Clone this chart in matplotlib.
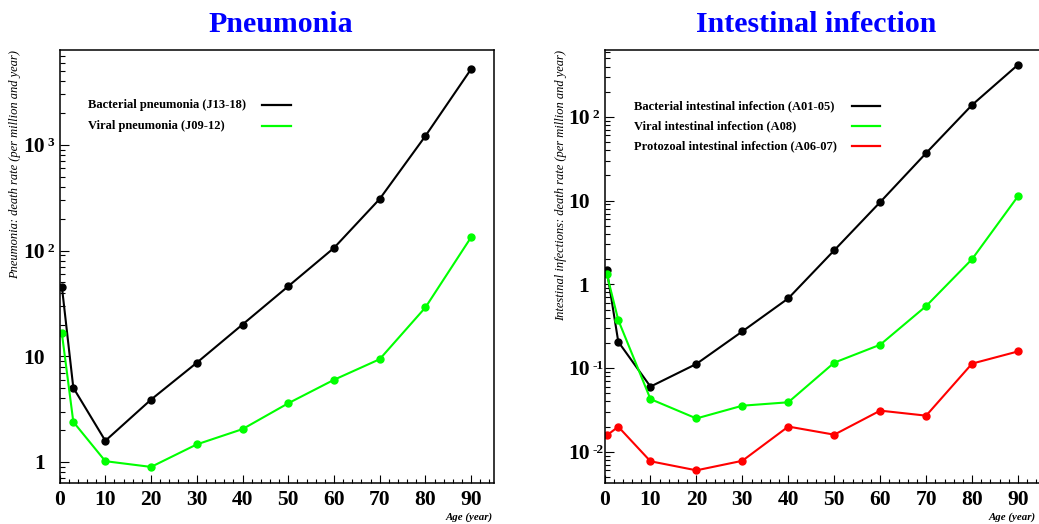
import matplotlib
matplotlib.use("Agg")
import matplotlib.pyplot as plt
from matplotlib.ticker import FixedLocator, NullFormatter, LogLocator, MultipleLocator
from matplotlib.transforms import blended_transform_factory, ScaledTranslation

plt.rcParams["font.family"] = ["Liberation Serif", "DejaVu Serif"]

# ---------------- data ----------------
ages = [0.5, 3, 10, 20, 30, 40, 50, 60, 70, 80, 90]

pneu_bacterial = [45.5, 5.05, 1.59, 3.9, 8.7, 20, 46, 106, 308, 1214, 5220]
pneu_viral = [16.5, 2.4, 1.02, 0.90, 1.47, 2.05, 3.6, 6.0, 9.4, 29, 134]

int_bacterial = [1.48, 0.206, 0.060, 0.112, 0.274, 0.68, 2.55, 9.6, 37, 139, 420]
int_viral = [1.32, 0.374, 0.0426, 0.025, 0.0355, 0.039, 0.116, 0.19, 0.55, 2.0, 11.3]
int_protozoal = [0.0157, 0.0199, 0.0077, 0.006, 0.0078, 0.020, 0.016, 0.031, 0.027, 0.113, 0.158]

pneu_labels = ["Bacterial pneumonia (J13-18)", "Viral pneumonia (J09-12)"]
int_labels = ["Bacterial intestinal infection (A01-05)", "Viral intestinal infection (A08)",
              "Protozoal intestinal infection (A06-07)"]
xticks = [0, 10, 20, 30, 40, 50, 60, 70, 80, 90]
pneu_exps = [0, 1, 2, 3]
int_exps = [-2, -1, 0, 1, 2]

W, H = 1039, 524
fig = plt.figure(figsize=(W / 100, H / 100), dpi=100)


def px_axes(l, r, t, b):
    return fig.add_axes([l / W, 1 - b / H, (r - l) / W, (b - t) / H])


ax1 = px_axes(59.6, 494, 50, 483.3)
ax2 = px_axes(604.5, 1041, 50, 483.3)


def style(ax, ylim, exps):
    ax.set_yscale("log")
    ax.set_xlim(0, 95)
    ax.set_ylim(*ylim)
    ax.xaxis.set_major_locator(FixedLocator(xticks))
    ax.xaxis.set_minor_locator(MultipleLocator(2))
    ax.set_xticklabels([str(t) for t in xticks])
    ax.yaxis.set_major_locator(FixedLocator([10.0 ** e for e in exps]))
    ax.yaxis.set_minor_locator(LogLocator(base=10, subs=range(2, 10), numticks=50))
    ax.yaxis.set_minor_formatter(NullFormatter())
    ax.tick_params(axis="x", which="major", direction="in", length=5.8, width=0.8,
                   labelsize=15.5, pad=4.8, top=False)
    ax.tick_params(axis="x", which="minor", direction="in", length=2.9, width=0.8, top=False)
    ax.tick_params(axis="y", which="major", direction="in", length=6.5, width=0.8,
                   labelleft=False, right=False)
    ax.tick_params(axis="y", which="minor", direction="in", length=3.4, width=0.8, right=False)
    for lab in ax.get_xticklabels():
        lab.set_fontweight("bold")
    for sp in ax.spines.values():
        sp.set_linewidth(1.1)
    tr = blended_transform_factory(ax.transAxes, ax.transData)
    for e in exps:
        v = 10.0 ** e
        if e == 0:
            base, sup = "1", None
        elif e == 1:
            base, sup = "10", None
        else:
            base, sup = "10", str(e)
        ax.text(0, v, base, transform=tr + ScaledTranslation(-10.8 / 72, -5.2 / 72, fig.dpi_scale_trans),
                ha="right", va="baseline", fontsize=15.5, fontweight="bold")
        if sup:
            ax.text(0, v, sup, transform=tr + ScaledTranslation(-8.6 / 72, -0.7 / 72, fig.dpi_scale_trans),
                    ha="left", va="baseline", fontsize=9.5, fontweight="bold")


style(ax1, (0.63, 7900), pneu_exps)
style(ax2, (0.0042, 630), int_exps)

lw, ms = 1.5, 5
ax1.plot(ages, pneu_bacterial, color="black", lw=lw, marker="o", ms=ms)
ax1.plot(ages, pneu_viral, color="#00ff00", lw=lw, marker="o", ms=ms)
ax2.plot(ages, int_bacterial, color="black", lw=lw, marker="o", ms=ms)
ax2.plot(ages, int_viral, color="#00ff00", lw=lw, marker="o", ms=ms)
ax2.plot(ages, int_protozoal, color="#ff0000", lw=lw, marker="o", ms=ms)

# legends (drawn manually, ROOT style: text left, line sample right)
def legend(labels, colors, text_x, line_x0, line_x1, ys):
    for lab, c, y in zip(labels, colors, ys):
        fig.text(text_x / W, 1 - y / H, lab, ha="left", va="center", fontsize=9, fontweight="bold")
        fig.add_artist(plt.Line2D([line_x0 / W, line_x1 / W], [1 - y / H, 1 - y / H],
                                  color=c, lw=1.6, transform=fig.transFigure))


legend(pneu_labels, ["black", "#00ff00"], 88, 262, 291, [105, 126])
legend(int_labels, ["black", "#00ff00", "#ff0000"], 634, 852, 880, [106, 126, 146])

# titles
fig.text(280.5 / W, 1 - 32 / H, "Pneumonia", ha="center", va="baseline",
         fontsize=21.5, fontweight="bold", color="#0000ff")
fig.text(816 / W, 1 - 32 / H, "Intestinal infection", ha="center", va="baseline",
         fontsize=21.5, fontweight="bold", color="#0000ff")

# axis titles
fig.text(15 / W, 1 - 50 / H, "Pneumonia: death rate (per million and year)", rotation=90,
         ha="center", va="top", fontsize=9, style="italic")
fig.text(561 / W, 1 - 50 / H, "Intestinal infections: death rate (per million and year)", rotation=90,
         ha="center", va="top", fontsize=9, style="italic")
fig.text(493 / W, 1 - 517 / H, "Age (year)", ha="right", va="center", fontsize=7.8,
         style="italic", fontweight="bold")
fig.text(1036 / W, 1 - 517 / H, "Age (year)", ha="right", va="center", fontsize=7.8,
         style="italic", fontweight="bold")

fig.savefig("out.png", dpi=100)
